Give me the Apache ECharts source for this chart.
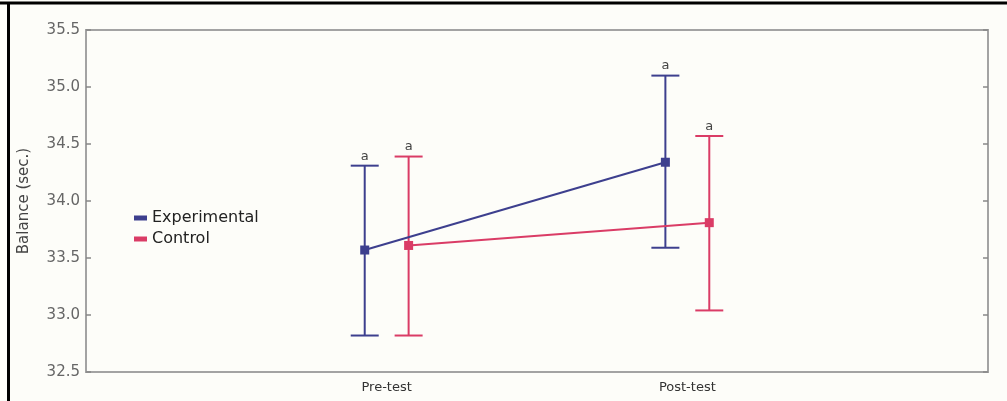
<!DOCTYPE html>
<html>
<head>
<meta charset="utf-8">
<script src="https://cdn.jsdelivr.net/npm/echarts@6/dist/echarts.min.js"></script>
<style>
  html, body { margin: 0; padding: 0; background: #fdfdf9; }
  #chart { width: 1007px; height: 401px; }
</style>
</head>
<body>
<div id="chart"></div>
<script>
// Time points on the x axis
const categories = ['Pre-test', 'Post-test'];
// Group means (seconds)
const experimentalMean = [33.57, 34.34];
const controlMean = [33.61, 33.81];
// Error bar limits
const experimentalLow = [32.82, 33.59];
const experimentalHigh = [34.31, 35.10];
const controlLow = [32.82, 33.04];
const controlHigh = [34.39, 34.57];
// Significance letters above each bar
const experimentalSig = ['a', 'a'];
const controlSig = ['a', 'a'];
// Y axis ticks
const yTicks = [32.5, 33.0, 33.5, 34.0, 34.5, 35.0, 35.5];

const BLUE = '#3d3f8e';
const RED = '#da3c66';
const FONT = 'DejaVu Sans, Verdana, sans-serif';
const DODGE = 0.073;

function pts(means, shift) {
  return means.map((v, i) => [i + 1 + shift, v]);
}
function bars(low, high, sig, shift) {
  return low.map((lo, i) => [i + 1 + shift, lo, high[i], sig[i]]);
}

function errorBarSeries(name, data, color) {
  return {
    name: name + ' error',
    type: 'custom',
    data: data,
    z: 3,
    renderItem: function (params, api) {
      const x = api.value(0);
      const lo = api.coord([x, api.value(1)]);
      const hi = api.coord([x, api.value(2)]);
      const cap = 14;
      const style = { stroke: color, lineWidth: 2 };
      return {
        type: 'group',
        children: [
          { type: 'line', shape: { x1: lo[0], y1: lo[1], x2: hi[0], y2: hi[1] }, style: style },
          { type: 'line', shape: { x1: lo[0] - cap, y1: lo[1], x2: lo[0] + cap, y2: lo[1] }, style: style },
          { type: 'line', shape: { x1: hi[0] - cap, y1: hi[1], x2: hi[0] + cap, y2: hi[1] }, style: style },
          {
            type: 'text',
            style: {
              x: hi[0], y: hi[1] - 3, text: api.value(3),
              textAlign: 'center', textVerticalAlign: 'bottom',
              fill: '#444', font: '13px ' + FONT
            }
          }
        ]
      };
    }
  };
}

const chart = echarts.init(document.getElementById('chart'));
chart.setOption({
  backgroundColor: '#fdfdf9',
  animation: false,
  graphic: [
    { type: 'line', shape: { x1: 0, y1: 3, x2: 1007, y2: 3 }, style: { stroke: '#000', lineWidth: 3 } },
    { type: 'line', shape: { x1: 8.5, y1: 2, x2: 8.5, y2: 401 }, style: { stroke: '#000', lineWidth: 3 } }
  ],
  grid: {
    left: 86, right: 19, top: 30, bottom: 29,
    show: true, borderColor: '#a3a3a3', borderWidth: 2, backgroundColor: '#fdfdf9'
  },
  legend: {
    left: 129, top: 205, orient: 'vertical',
    itemWidth: 13, itemHeight: 5, itemGap: 5,
    data: [
      { name: 'Experimental', icon: 'rect' },
      { name: 'Control', icon: 'rect' }
    ],
    textStyle: { fontFamily: FONT, fontSize: 16, color: '#222' }
  },
  xAxis: {
    type: 'value', min: 0, max: 3, interval: 1,
    splitLine: { show: false },
    axisLine: { show: false },
    axisTick: { show: false },
    axisLabel: {
      margin: 9, fontFamily: FONT, fontSize: 13, color: '#333',
      formatter: v => categories[v - 1] || ''
    }
  },
  yAxis: [
    {
      type: 'value', min: yTicks[0], max: yTicks[yTicks.length - 1], interval: 0.5,
      name: 'Balance (sec.)', nameLocation: 'middle', nameGap: 54,
      nameTextStyle: { fontFamily: FONT, fontSize: 15, color: '#444' },
      splitLine: { show: false },
      axisLine: { show: false },
      axisTick: { show: true, inside: true, length: 5, lineStyle: { color: '#888', width: 1.5 } },
      axisLabel: { margin: 6, fontFamily: FONT, fontSize: 15, color: '#666', formatter: v => v.toFixed(1) }
    },
    {
      type: 'value', position: 'right', min: yTicks[0], max: yTicks[yTicks.length - 1], interval: 0.5,
      splitLine: { show: false },
      axisLine: { show: false },
      axisTick: { show: true, inside: true, length: 5, lineStyle: { color: '#888', width: 1.5 } },
      axisLabel: { show: false }
    }
  ],
  series: [
    errorBarSeries('Experimental', bars(experimentalLow, experimentalHigh, experimentalSig, -DODGE), BLUE),
    errorBarSeries('Control', bars(controlLow, controlHigh, controlSig, DODGE), RED),
    {
      name: 'Experimental', type: 'line', data: pts(experimentalMean, -DODGE),
      symbol: 'rect', symbolSize: 9, color: BLUE, z: 4,
      lineStyle: { color: BLUE, width: 2 }, itemStyle: { color: BLUE }
    },
    {
      name: 'Control', type: 'line', data: pts(controlMean, DODGE),
      symbol: 'rect', symbolSize: 9, color: RED, z: 4,
      lineStyle: { color: RED, width: 2 }, itemStyle: { color: RED }
    }
  ]
});
</script>
</body>
</html>
